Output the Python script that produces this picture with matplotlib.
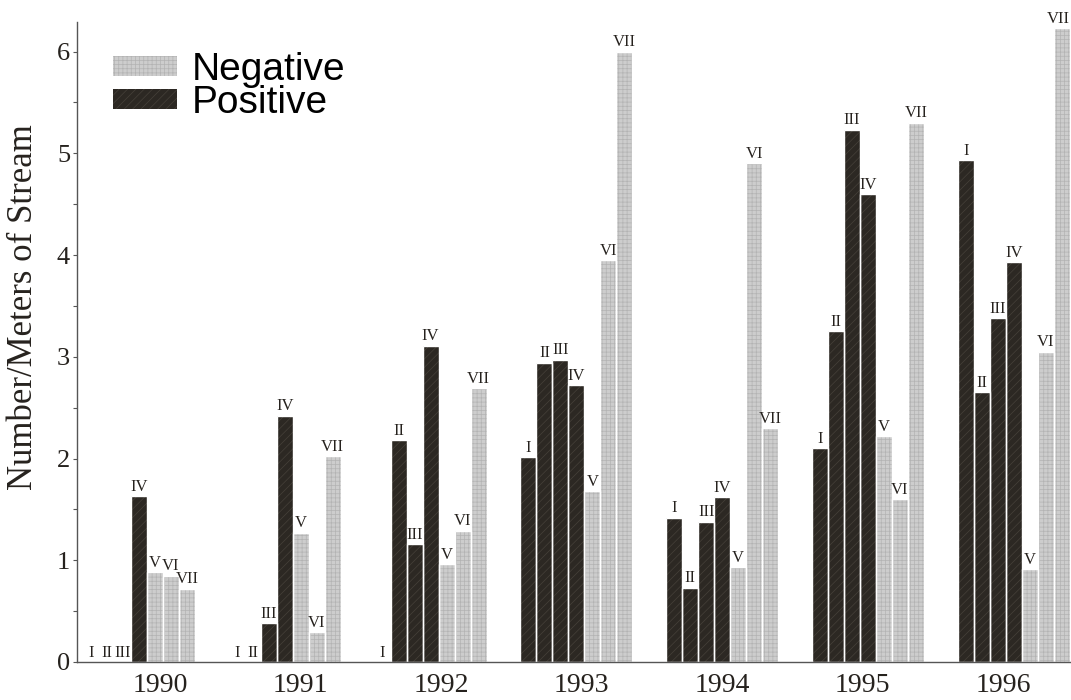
import numpy as np
import matplotlib.pyplot as plt
from matplotlib.patches import Patch

# data
years = ['1990', '1991', '1992', '1993', '1994', '1995', '1996']
classes = ['I', 'II', 'III', 'IV', 'V', 'VI', 'VII']
cls_I = [0, 0, 0, 2.01, 1.42, 2.10, 4.93]
cls_II = [0, 0, 2.18, 2.94, 0.73, 3.25, 2.65]
cls_III = [0, 0.38, 1.16, 2.97, 1.38, 5.23, 3.38]
cls_IV = [1.63, 2.42, 3.11, 2.72, 1.62, 4.60, 3.93]
cls_V = [0.88, 1.27, 0.96, 1.68, 0.93, 2.22, 0.91]
cls_VI = [0.85, 0.29, 1.29, 3.95, 4.90, 1.60, 3.05]
cls_VII = [0.72, 2.02, 2.69, 6.00, 2.30, 5.30, 6.23]
positive = ['I', 'II', 'III', 'IV']  # the rest are negative

series = [cls_I, cls_II, cls_III, cls_IV, cls_V, cls_VI, cls_VII]

dark = '#2c2823'
dark_tex = '#46413a'
light = '#cdcdcd'
light_tex = '#b3b3b3'
ink = '#26221e'

plt.rcParams['hatch.linewidth'] = 0.5
serif = 'Liberation Serif'

fig = plt.figure(figsize=(10.71, 7.0), dpi=100)
ax = fig.add_axes([77 / 1071, 38 / 700, 994 / 1071, 640 / 700])

x = np.arange(len(years))
w = 0.1097
xmax = 6.392

for k, (name, vals) in enumerate(zip(classes, series)):
    pos = x + (k - 3) * w
    if name in positive:
        fc, tc, hatch = dark, dark_tex, '////'
    else:
        fc, tc, hatch = light, light_tex, '++++'
    ax.bar(pos, vals, w, color=fc, edgecolor=tc, hatch=hatch, linewidth=0, zorder=1)
    ax.bar(pos, vals, w, fill=False, edgecolor='white', linewidth=1.0, zorder=1.2)
    for px, v in zip(pos, vals):
        # last bar sits on the right edge, keep its label inside
        if px + w > xmax:
            lx, ha = px + w / 2, 'right'
        else:
            lx, ha = px, 'center'
        ax.annotate(name, (lx, v), xytext=(0, 1), textcoords='offset points',
                    ha=ha, va='bottom', fontsize=12, family=serif,
                    color=ink)

ax.set_xlim(-0.425, xmax)
ax.set_ylim(0, 6.29)

# year labels sit slightly off the group centres in the original
ax.set_xticks(0.144 + 0.9636 * x)
ax.set_xticklabels(years, fontsize=20, family=serif, color=ink)
ax.tick_params(axis='x', length=0, pad=8)

ax.set_yticks(range(7))
ax.set_yticks(np.arange(0.5, 6.5, 1), minor=True)
ax.tick_params(axis='y', which='both', direction='out', length=3, width=0.8,
               color='#555', pad=2, labelsize=19, labelcolor=ink)
for lab in ax.get_yticklabels():
    lab.set_family(serif)

ax.set_ylabel('Number/Meters of Stream', fontsize=25, family=serif, color=ink)
ax.yaxis.set_label_coords(-0.037, 0.555)

for s in ['top', 'right']:
    ax.spines[s].set_visible(False)
for s in ['left', 'bottom']:
    ax.spines[s].set_color('#555')
    ax.spines[s].set_linewidth(1.0)
    ax.spines[s].set_zorder(3)

handles = [Patch(facecolor=light, edgecolor=light_tex, hatch='++++', linewidth=0),
           Patch(facecolor=dark, edgecolor=dark_tex, hatch='////', linewidth=0)]
ax.legend(handles, ['Negative', 'Positive'], loc='upper left',
          bbox_to_anchor=(113 / 1071, 1 - 52 / 700), bbox_transform=fig.transFigure,
          frameon=False, borderpad=0, borderaxespad=0, handlelength=1.65,
          handleheight=0.4, handletextpad=0.37, labelspacing=-0.08,
          prop={'family': 'Liberation Sans', 'size': 28})

fig.savefig('out.png', dpi=100)
